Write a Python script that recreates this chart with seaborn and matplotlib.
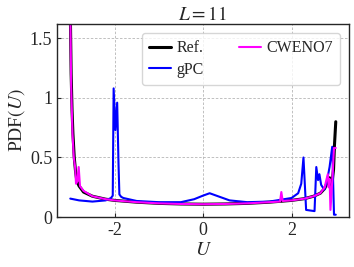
import matplotlib
matplotlib.use("Agg")
import matplotlib.pyplot as plt
import seaborn as sns
import pandas as pd
from matplotlib.ticker import FormatStrFormatter

# values
ref_u = [-3.0, -2.98, -2.96, -2.94, -2.91, -2.88, -2.85, -2.8, -2.7, -2.5, -2.2, -2.0,
         -1.5, -1.0, -0.5, 0.0, 0.5, 1.0, 1.5, 2.0, 2.3, 2.5, 2.65, 2.75, 2.82, 2.86,
         2.89, 2.92, 2.95, 2.97, 3.0]
ref_pdf = [1.75, 1.2, 0.9, 0.7, 0.5, 0.38, 0.3, 0.26, 0.21, 0.175, 0.15, 0.14,
           0.125, 0.115, 0.11, 0.108, 0.11, 0.115, 0.125, 0.14, 0.155, 0.175, 0.2, 0.24, 0.3, 0.33,
           0.26, 0.3, 0.4, 0.6, 0.8]

cw_u = [-3.0, -2.98, -2.95, -2.92, -2.89, -2.87, -2.84, -2.81, -2.78, -2.7, -2.5, -2.2, -2.0,
        -1.5, -1.0, -0.5, 0.0, 0.5, 1.0, 1.5, 1.74, 1.77, 1.8, 2.0, 2.3, 2.5, 2.65,
        2.75, 2.78, 2.82, 2.84, 2.86, 2.88, 2.92, 2.96, 3.0]
cw_pdf = [1.75, 1.1, 0.7, 0.5, 0.42, 0.28, 0.3, 0.42, 0.26, 0.22, 0.175, 0.15, 0.14,
          0.125, 0.115, 0.11, 0.108, 0.11, 0.115, 0.125, 0.13, 0.21, 0.135, 0.14, 0.155, 0.175, 0.2,
          0.25, 0.3, 0.36, 0.25, 0.32, 0.06, 0.3, 0.58, 0.58]

gpc_u = [-3.0, -2.8, -2.5, -2.2, -2.08, -2.04, -2.02, -1.98, -1.94, -1.91, -1.89, -1.85,
         -1.8, -1.5, -1.0, -0.5, -0.2, 0.0, 0.15, 0.3, 0.6, 1.0, 1.5, 2.0, 2.15, 2.22,
         2.27, 2.33, 2.52, 2.56, 2.6, 2.63, 2.67, 2.74, 2.8, 2.86, 2.92, 2.96, 3.0]
gpc_pdf = [0.155, 0.14, 0.13, 0.14, 0.16, 0.18, 1.08, 0.73, 0.96, 0.45, 0.19, 0.17,
           0.16, 0.135, 0.125, 0.125, 0.15, 0.18, 0.2, 0.18, 0.14, 0.125, 0.13, 0.16, 0.2, 0.28,
           0.5, 0.06, 0.05, 0.42, 0.31, 0.36, 0.27, 0.23, 0.3, 0.42, 0.59, 0.02, 0.02]

sns.set_style("ticks")
plt.rcParams["font.family"] = ["Liberation Serif", "DejaVu Serif"]
plt.rcParams["mathtext.fontset"] = "stix"
plt.rcParams["axes.unicode_minus"] = False

fig = plt.figure(figsize=(3.54, 2.67), dpi=100)
ax = fig.add_axes([0.161, 0.187, 0.825, 0.723])

ax.grid(True, color="#b5b5b5", linestyle=(0, (3, 2)), linewidth=0.6)
ax.set_axisbelow(True)

sns.lineplot(x=ref_u, y=ref_pdf, color="black", linewidth=2.2, label="Ref.",
             sort=False, estimator=None, ax=ax)
sns.lineplot(x=gpc_u, y=gpc_pdf, color="blue", linewidth=1.5, label="gPC",
             sort=False, estimator=None, ax=ax)
sns.lineplot(x=cw_u, y=cw_pdf, color="magenta", linewidth=1.5, label="CWENO7",
             sort=False, estimator=None, ax=ax)

ax.set_xlim(-3.3, 3.3)
ax.set_ylim(0, 1.62)
ax.set_xticks([-2, 0, 2])
ax.set_yticks([0, 0.5, 1, 1.5])
ax.yaxis.set_major_formatter(FormatStrFormatter("%g"))
ax.tick_params(direction="in", labelsize=13, length=3)

ax.set_xlabel("$U$", fontsize=14, labelpad=2)
ax.set_ylabel("PDF$(U)$", fontsize=14, labelpad=2)
ax.set_title("$L=11$", fontsize=14, pad=3)

for s in ax.spines.values():
    s.set_linewidth(1.0)

leg = ax.legend(loc="upper right", ncol=2, fontsize=11.5, frameon=True, framealpha=0.8,
                handlelength=1.35, columnspacing=2.2, handletextpad=0.35,
                labelspacing=0.35, borderpad=0.45, borderaxespad=0,
                bbox_to_anchor=(0.969, 0.953))
leg.get_frame().set_edgecolor("#cccccc")

fig.savefig("out.png", dpi=100)
